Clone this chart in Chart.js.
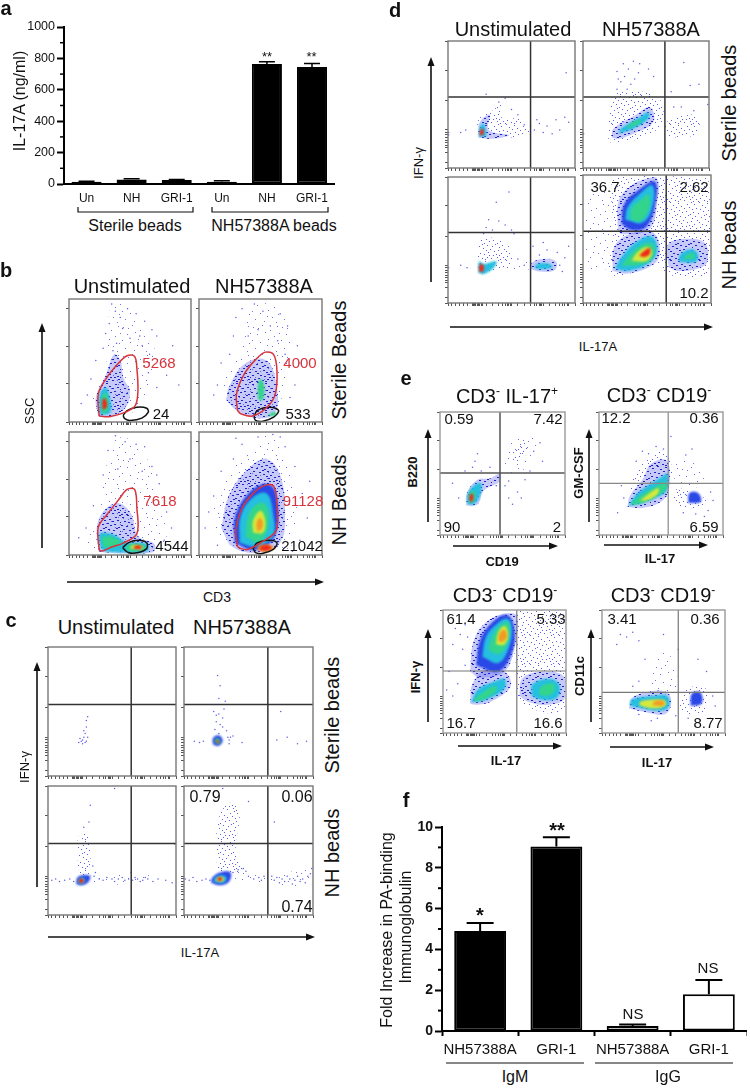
<!DOCTYPE html>
<html>
<head>
<meta charset="utf-8">
<title>IL-17A panels</title>
<script src="https://cdn.jsdelivr.net/npm/chart.js@4"></script>
<style>
body { margin: 0; background: #fff; width: 750px; height: 1089px; overflow: hidden; position: relative; font-family: "Liberation Sans", Arial, sans-serif; color: #111; }
canvas { position: absolute; }
canvas.flow { filter: blur(0.3px); }
.lbl { position: absolute; white-space: nowrap; transform: translate(-50%, -50%); line-height: 1; }
.lbl sup { font-size: .6em; line-height: 0; }
svg { position: absolute; left: 0; top: 0; }
</style>
</head>
<body>
<svg id="overlay" width="750" height="1089"></svg>
<script>
// panel a
const catsA = ['Un', 'NH', 'GRI-1', 'Un', 'NH', 'GRI-1'];
const valsA = [15, 28, 25, 15, 765, 745];
const errsA = [3, 5, 4, 5, 14, 22];
const ticksA = [0, 200, 400, 600, 800, 1000];
const minorA = [100, 300, 500, 700, 900];

// panel f
const catsF = ['NH57388A', 'GRI-1', 'NH57388A', 'GRI-1'];
const valsF = [4.9, 9.05, 0.25, 1.8];
const errsF = [0.4, 0.45, 0.07, 0.7];
const ticksF = [0, 2, 4, 6, 8, 10];
const minorF = [1, 3, 5, 7, 9];

// flow plot axis ticks
const flowXTicks = [0, 3, 6, 9, 12, 15, 19, 20, 21, 22, 23, 24, 25, 26, 27, 30, 35, 40, 43, 45, 47, 48, 49, 50, 55, 60, 65, 68, 70, 72, 73, 74, 75, 80, 85, 88, 90, 92, 94, 95, 100];
const flowYTicks = [0, 4, 12, 16, 18, 20, 22, 24, 26, 28, 30, 53, 77, 100];
const sscTicks = [0, 31, 61, 92];

// b: gates
const bUL_red = [[24.7,4.8],[24,22.7],[30,34.7],[39.5,46.7],[47.6,53.9],[53.8,53.3],[55.6,44],[56.5,25.3],[54.3,13.3],[46.2,8],[34.1,4.5]];
const bUL_black = [[44.4,5.3],[47.6,9.3],[55.6,12],[63.7,11.2],[65,8],[59.7,3.2],[50.2,1.3],[45.7,2.7]];
const bUR_red = [[31.3,9.3],[30.5,22.7],[36.6,38.7],[46,50.7],[54,56.8],[60.7,54.7],[63.4,41.3],[62,22.7],[55.3,12],[43.3,4.8],[34,6.7]];
const bUR_black = [[44.7,4],[47.3,9.3],[58,12],[64.7,9.3],[60.7,4],[51.3,0.5],[46,1.3]];
const bLL_red = [[24.7,4],[24,22.7],[31.5,33.3],[41,45.3],[47.6,53.3],[53.8,53.3],[55.6,38.7],[55.6,17.3],[43.5,9.3],[35.5,6.7],[27.4,3.2]];
const bLL_black = [[44,5.9],[48.9,10.1],[57,12],[63.7,9.9],[63.7,5.3],[57,2.1],[48.9,1.9]];
const bLR_red = [[31.3,6.7],[30,20],[35.3,38.7],[44.7,50.7],[54,56.8],[60.7,56],[63.4,41.3],[62.8,20],[51.3,10.7],[39.3,4.5],[34,5.3]];
const bLR_black = [[44,5.3],[47.3,9.9],[56.7,12],[63.4,9.9],[60.7,4.8],[51.3,1.3],[46,1.9]];

// b: density outlines
const bUL_sparse = [[22,5],[20,25],[30,45],[32,70],[35,95],[45,95],[60,75],[70,60],[68,35],[60,15],[45,5]];
const bUL_dense = [[24,5],[22,20],[30,38],[37,55],[42,50],[45,35],[50,25],[45,10],[30,4]];
const bUL_cyan = [[25,6],[25,22],[30,28],[33,22],[34,8]];
const bUL_green = [[27,7],[27,20],[30,24],[32,18],[31,8]];
const bUL_hot = [[27.5,10],[27.5,18],[30,19],[31,12]];
const bUL_dots = [[35,96],[38,90],[42,85],[33,80],[48,92],[55,88],[62,82],[68,75],[72,70],[30,72],[28,60],[22,50],[18,35],[15,22],[10,15],[60,62],[66,55],[78,50],[80,38],[72,28],[65,40],[58,70],[44,76],[50,68],[39,64],[36,58],[85,62],[90,30]];

const bUR_sparse = [[20,22],[22,40],[35,60],[40,90],[60,95],[75,70],[70,35],[62,8],[45,4],[30,10]];
const bUR_dense = [[22,18],[25,30],[38,48],[55,50],[63,30],[62,8],[48,3],[30,10]];
const bUR_green = [[48,18],[48,30],[50,35],[53,30],[52,18]];
const bUR_green2 = [[55,5],[60,8],[63,8],[62,5]];
const bUR_dots = [[30,85],[35,92],[45,96],[52,90],[66,88],[72,78],[80,62],[82,48],[78,30],[74,20],[25,55],[18,48],[15,30],[12,22],[28,70],[40,70],[48,75],[58,78],[64,66],[70,55]];

const bLL_sparse = [[15,10],[25,40],[30,70],[40,95],[60,85],[72,50],[80,10],[70,3],[25,3]];
const bLL_dense = [[24,3],[24,28],[38,42],[50,35],[57,15],[70,9],[68,2],[30,2]];
const bLL_cyan = [[26,5],[25,17],[35,17],[44,12],[48,10],[64,9],[64,3],[45,2],[30,3]];
const bLL_green = [[28,7],[28,15],[40,13],[42,9],[32,6]];
const bLL_green2 = [[46,5],[50,9],[62,8],[62,4],[50,3]];
const bLL_yellow = [[50,5],[52,8],[60,7],[60,5]];
const bLL_red2 = [[53,5],[54,7.5],[59,7.5],[59,5]];
const bLL_dots = [[38,97],[46,92],[55,90],[62,88],[32,85],[28,65],[20,40],[14,22],[8,14],[68,72],[74,58],[80,35],[84,22],[78,12],[72,65],[50,78],[40,70],[60,68]];

const bLR_sparse = [[10,30],[20,60],[40,85],[55,97],[65,90],[75,60],[80,25],[72,5],[40,2],[22,8]];
const bLR_dense = [[18,22],[25,50],[42,72],[55,78],[66,65],[70,35],[66,10],[48,2],[28,6]];
const bLR_blue = [[29,10],[29,30],[40,50],[54,58],[62,52],[64,25],[58,10],[44,4]];
const bLR_cyan = [[33,10],[34,32],[44,47],[55,50],[60,35],[60,15],[46,7]];
const bLR_green = [[38,15],[40,32],[48,42],[55,40],[56,22],[48,10]];
const bLR_yellow = [[44,18],[44,28],[50,36],[54,28],[52,18]];
const bLR_orange = [[47,20],[47,27],[50,30],[52,25],[50,20]];
const bLR_gateHot = [[47,5],[50,8],[58,8],[61,6],[57,3],[50,3]];
const bLR_gateRed = [[49,4.5],[51,7.5],[58,7.5],[58,4.5],[53,3.5]];
const bLR_dots = [[5,22],[8,35],[12,48],[18,68],[28,78],[35,90],[48,96],[60,98],[70,88],[78,72],[84,50],[88,30],[82,12],[76,3],[15,8],[90,60],[30,95],[66,96]];

// c
const cUL_dots = [[27,28],[26,27],[28,30],[30,27],[25,29],[29,33],[31,30],[30,38],[30,43],[31,46],[27,25],[24,26],[29,26],[28,35]];
const cUR_blue = [[22.5,24.5],[22.5,29.5],[27,31.5],[30,27.5],[27,23.5]];
const cUR_green = [[24,25.5],[24.5,29],[27.5,28.5],[27.5,25]];
const cUR_red = [[25,26],[25.5,28],[27,27.5],[26.5,25.5]];
const cUR_dots = [[27,33],[24,36],[28,40],[25,42],[30,45],[27,48],[23,50],[31,52],[32,58],[27,60],[28,70],[25,47],[30,38],[33,35],[36,30],[38,31],[35,28],[45,26],[72,28],[80,30],[88,25],[95,27],[75,50],[15,27],[12,26],[8,27],[35,25],[26,78],[34,30]];
const cLL_column = [[24,30],[23,55],[25,62],[31,62],[32,30]];
const cLL_band = [[34,24],[34,31],[60,31],[78,31],[82,28],[72,24]];
const cLL_blue = [[22,24],[23,29],[28,31],[33,30],[31,25],[26,23]];
const cLL_cyan = [[23,25],[24,28],[27,29],[29,27],[27,24]];
const cLL_hot = [[24,25],[24.5,28],[27.5,28],[27.5,25]];
const cLL_dots = [[3,27],[6,28],[9,26],[13,27],[17,28],[20,26],[36,30],[40,28],[43,27],[46,29],[50,28],[52,26],[55,28],[58,29],[60,27],[63,28],[66,27],[68,29],[70,28],[72,26],[74,27],[76,29],[78,28],[82,26],[86,28],[92,27],[97,25],[28,68],[32,72],[33,85],[52,98],[65,33],[99,55],[35,38],[37,33]];
const cLR_column = [[26,30],[25,60],[28,78],[36,87],[43,80],[40,50],[45,34],[34,32]];
const cLR_band = [[38,26],[38,33],[60,31],[80,33],[99,36],[99,24],[78,23],[60,25]];
const cLR_blue = [[21,25],[22,29],[28,33],[36,33],[35,26],[28,23]];
const cLR_cyan = [[23,25.5],[24,29],[29,31],[33,29],[31,25]];
const cLR_yellow = [[25,26.5],[26,28.5],[29,29.5],[31,28],[29,26]];
const cLR_red = [[26,26.5],[26.5,29],[29.5,29],[29,26.5]];
const cLR_dots = [[1,28],[4,27],[7,29],[10,26],[14,27],[17,28],[20,27],[38,33],[42,35],[46,36],[48,34],[50,30],[54,28],[58,29],[60,27],[62,30],[68,30],[70,27],[72,29],[74,25],[76,28],[78,26],[80,30],[82,28],[84,24],[86,27],[88,30],[90,26],[92,28],[94,25],[96,30],[98,32],[99,36],[70,72],[30,98],[50,88]];

// d
const dUL_sparse = [[24,24],[24,38],[35,45],[42,50],[42,40],[58,38],[64,28],[50,24]];
const dUL_blue = [[24,24],[25,36],[33,42],[32,30],[48,26],[35,23]];
const dUL_cyan = [[24.5,24.5],[25,32],[28,35],[30,29],[30,25]];
const dUL_hot = [[25,25.5],[25.5,30],[27.5,31],[28,26.5]];
const dUL_dots = [[68,30],[72,35],[75,28],[78,33],[82,27],[85,38],[88,30],[92,40],[95,36],[70,38],[65,33],[10,28],[14,30],[0.5,28],[0.5,26],[30,58],[93,75],[45,55],[40,52],[50,46],[55,42],[60,34]];
const dUR_sparse = [[20,20],[22,50],[30,60],[60,55],[62,35],[45,23]];
const dUR_dense = [[23,24],[24,31],[42,42],[52,48],[56,44],[55,35],[40,27],[28,23]];
const dUR_cyan = [[28,27],[30,31],[45,40],[52,44],[52,39],[40,31]];
const dUR_green = [[35,31],[37,34],[44,38],[46,36]];
const dUR_right = [[65,25],[65,35],[85,42],[92,38],[90,27],[75,24]];
const dUR_dots = [[27,62],[30,68],[33,72],[27,76],[36,78],[40,84],[32,82],[44,75],[38,66],[45,82],[52,78],[56,72],[28,70],[35,62],[41,70],[80,83],[92,66],[85,65],[70,60],[0.5,27],[99,50],[72,48],[78,48],[88,45]];
const dLL_sparse = [[24,23],[24,45],[28,52],[40,50],[50,42],[50,30],[35,25]];
const dLL_cyan = [[24,24],[24.5,33],[28,31],[38,33],[36,28],[28,23]];
const dLL_hot = [[24.5,24.5],[25,30.5],[27.5,30.5],[28,25.5]];
const dLL_bridge = [[50,27],[52,31],[65,33],[65,27]];
const dLL_rBlue = [[65,27],[66,32],[75,35],[85,33],[84,26],[72,25]];
const dLL_rCyan = [[68,28],[70,31],[80,31],[82,28],[72,27]];
const dLL_dots = [[30,60],[35,58],[45,62],[50,58],[40,65],[32,66],[28,55],[38,80],[48,88],[52,55],[67,45],[75,48],[78,42],[72,38],[86,40],[92,36],[95,45],[0.5,28],[10,30],[15,28],[88,30],[90,25],[55,35],[60,30]];
const dLR_wash = [[25,56],[25,98],[60,99],[98,97],[98,25],[65,22],[60,30],[23,22]];
const dLR_left = [[3,25],[3,80],[22,85],[22,30]];
const dLR_upDense = [[27,60],[28,80],[38,92],[50,97],[58,97],[58,80],[52,58],[30,54]];
const dLR_upBlue = [[30,62],[32,77],[43,88],[56,95],[57,80],[50,60],[38,57]];
const dLR_upCyan = [[33,65],[35,75],[45,86],[54,92],[55,78],[47,63]];
const dLR_upGreen = [[37,65],[38,74],[47,82],[51,85],[52,75],[45,64]];
const dLR_loDense = [[23,25],[25,45],[40,55],[55,55],[60,40],[55,30],[35,23]];
const dLR_loCyan = [[25,27],[30,36],[42,48],[54,52],[58,40],[50,30],[35,25]];
const dLR_loGreen = [[30,29],[37,38],[47,46],[55,46],[55,36],[45,30]];
const dLR_loYellow = [[38,33],[42,39],[50,44],[54,40],[50,33]];
const dLR_loRed = [[44,37],[47,40],[52,43],[52,38],[48,36]];
const dLR_rDense = [[67,28],[66,45],[78,50],[95,47],[97,32],[90,27],[75,25]];
const dLR_rCyan = [[75,32],[76,38],[85,42],[90,38],[88,32]];
const dLR_rGreen = [[79,34],[80,37],[86,39],[87,35]];

// e
const e1_blue = [[21,24],[22,35],[30,45],[40,46],[48,50],[48,44],[35,36],[30,25]];
const e1_cyan = [[22,25],[22,33],[28,41],[33,42],[32,32],[27,25]];
const e1_green = [[23,27],[24,34],[27,36],[28,30],[25,26]];
const e1_red = [[23.5,27.5],[24,33],[26.5,33],[26,27.5]];
const e1_upSparse = [[52,55],[52,65],[60,78],[72,82],[78,77],[70,58],[60,48]];
const e1_upDense = [[58,62],[60,72],[68,75],[70,68],[63,60]];
const e1_dots = [[28,60],[26,55],[33,52],[30,66],[20,52],[15,30],[10,42],[52,40],[55,30],[58,25],[62,35],[68,45],[65,30],[75,68],[80,75],[82,60],[40,55],[45,40],[72,52],[55,44]];
const e2_sparse = [[25,35],[30,52],[40,62],[47,68],[56,66],[56,40]];
const e2_blue = [[23,23],[25,32],[35,45],[42,58],[55,60],[56,36],[50,27],[35,22]];
const e2_cyan = [[24,24],[30,33],[42,42],[50,47],[55,50],[55,37],[48,31],[35,26]];
const e2_green = [[25,24.5],[32,31],[45,39],[54,43],[54,37],[45,31],[35,26]];
const e2_yellow = [[33,28],[42,35],[48,38],[47,33],[38,28]];
const e2_rDense = [[60,35],[65,38],[85,30],[85,23],[72,22],[62,25]];
const e2_rBlue = [[72,26],[73,34],[80,34],[82,27]];
const e2_upSparse = [[60,42],[65,62],[82,58],[82,40]];
const e2_dots = [[46,72],[52,70],[40,66],[58,80],[30,60],[18,40],[20,30],[90,35],[92,28],[88,20],[75,70],[70,65],[35,68],[15,18],[68,18],[78,17],[85,15]];
const e3_wash = [[60,45],[60,99],[99,99],[99,20],[62,25]];
const e3_upDense = [[22,50],[25,75],[35,90],[50,97],[60,95],[58,70],[50,50],[30,45]];
const e3_upBlue = [[27,55],[30,75],[40,90],[52,96],[58,85],[56,65],[45,50]];
const e3_upCyan = [[32,62],[35,78],[43,88],[52,93],[56,85],[53,68],[45,57]];
const e3_upGreen = [[37,68],[40,78],[46,87],[53,90],[54,80],[50,68],[44,64]];
const e3_upYellow = [[43,72],[45,82],[50,87],[53,80],[50,72]];
const e3_upOrange = [[45,75],[46,81],[50,84],[52,78],[48,74]];
const e3_loBlue = [[22,24],[24,40],[35,52],[50,50],[55,38],[40,26],[28,23]];
const e3_loCyan = [[23,25],[28,35],[42,42],[50,44],[50,36],[35,27]];
const e3_loGreen = [[24,26],[32,33],[42,38],[44,35],[32,27]];
const e3_rDense = [[62,30],[65,45],[85,50],[99,45],[99,28],[85,23],[70,25]];
const e3_rCyan = [[72,30],[73,40],[88,44],[95,38],[92,28],[80,27]];
const e3_rGreen = [[78,32],[80,38],[90,40],[90,33],[82,30]];
const e3_dots = [[10,85],[14,80],[8,72],[16,68],[5,50],[12,40],[8,30],[18,88],[20,78],[3,35],[18,55]];
const e4_upSparse = [[38,30],[42,60],[48,67],[57,60],[60,35]];
const e4_dense = [[22,20],[24,28],[35,33],[53,33],[56,22],[50,15],[35,17]];
const e4_cyan = [[23,22],[24,27],[40,30],[53,30],[54,21],[45,18]];
const e4_green = [[30,23],[32,26],[50,27],[52,23],[45,20],[35,21]];
const e4_hot = [[41,22.5],[43,26],[50,26],[50,22.5]];
const e4_rSparse = [[63,20],[65,32],[75,38],[85,35],[83,18],[72,15]];
const e4_rDense = [[72,22],[73,32],[80,33],[81,24]];
const e4_dots = [[15,80],[20,78],[25,82],[30,75],[12,72],[62,68],[78,60],[85,50],[90,30],[92,22],[70,12],[60,14],[45,12],[40,10],[30,15],[88,12],[50,80],[35,60],[30,42],[25,38]];

// little texture tiles for the low density stipple
const sparseTile = [[2,3],[11,1],[19,6],[26,2],[6,10],[14,8],[23,12],[1,16],[9,18],[17,15],[27,19],[4,24],[13,26],[21,22],[25,27],[7,4],[16,21],[28,9]];
const denseTile = [[1,2],[6,0],[9,3],[14,1],[17,4],[23,2],[27,0],[3,6],[7,7],[12,5],[15,8],[20,6],[25,5],[28,7],[0,10],[5,11],[10,9],[13,12],[18,10],[22,9],[26,12],[2,14],[8,15],[11,13],[16,14],[21,15],[24,13],[28,16],[4,18],[6,20],[12,17],[15,19],[19,18],[23,20],[27,19],[1,22],[9,22],[13,23],[17,21],[22,24],[25,23],[3,26],[7,25],[11,27],[16,26],[20,27],[26,26],[28,24],[0,28],[5,28],[14,28],[18,24]];

function makePattern(tile, dotColor, dotWidth, wash) {
    let c = document.createElement('canvas');
    c.width = 29;
    c.height = 29;
    let g = c.getContext('2d');
    if (wash) {
        g.fillStyle = wash;
        g.fillRect(0, 0, 29, 29);
    }
    g.fillStyle = dotColor;
    tile.forEach(p => g.fillRect(p[0], p[1], dotWidth, 1));
    return g.createPattern(c, 'repeat');
}

const levelColors = {
    sparse: makePattern(sparseTile, '#7070ee', 1, null),
    medium: makePattern(denseTile, '#5a5ef0', 1, null),
    dense: makePattern(denseTile, '#1a22c8', 2, 'rgba(70,80,235,.3)'),
    blue: '#2a48e6',
    cyan: '#25bfe0',
    green: '#33d48c',
    yellow: '#d6e83c',
    orange: '#f39a24',
    red: '#ee2a1a'
};
const stippled = ['sparse', 'medium', 'dense'];

function toXY(pts) {
    return pts.map(p => ({ x: p[0], y: p[1] }));
}

function ring(pts) {
    return toXY(pts.concat([pts[0]]));
}

// flow plot frame is drawn round the chart area
const framePlugin = {
    id: 'frame',
    afterDraw(chart, args, opts) {
        let a = chart.chartArea;
        let ctx = chart.ctx;
        ctx.save();
        ctx.strokeStyle = opts.color || '#777';
        ctx.lineWidth = 1.4;
        ctx.strokeRect(a.left, a.top, a.right - a.left, a.bottom - a.top);
        ctx.restore();
    }
};

// solid density levels get a soft edge, stipple and lines stay sharp
function softFilter(chart, index) {
    let ds = chart.data.datasets[index];
    chart.ctx.filter = ds && ds.soft ? 'blur(1px)' : 'none';
}
const softEdges = {
    id: 'softEdges',
    beforeDatasetsDraw(chart) {
        softFilter(chart, chart.data.datasets.length - 1);
    },
    beforeDatasetDraw(chart) {
        chart.ctx.filter = 'none';
    },
    afterDatasetDraw(chart, args) {
        softFilter(chart, args.index - 1);
    },
    afterDatasetsDraw(chart) {
        chart.ctx.filter = 'none';
    }
};

function addCanvas(left, top, w, h, cls) {
    let c = document.createElement('canvas');
    c.width = w;
    c.height = h;
    c.style.left = left + 'px';
    c.style.top = top + 'px';
    c.style.width = w + 'px';
    c.style.height = h + 'px';
    if (cls) c.className = cls;
    document.body.appendChild(c);
    return c;
}

function flowPanel(x, y, w, h, cfg) {
    let datasets = [];
    (cfg.gates || []).forEach(g => {
        datasets.push({ data: ring(g[1]), showLine: true, tension: 0.35, borderColor: g[0], borderWidth: 1.5, pointRadius: 0, fill: false });
    });
    if (cfg.quad) {
        let lc = cfg.lineColor || '#333';
        let lw = cfg.lineWidth || 1.5;
        datasets.push({ data: [{ x: cfg.quad[0], y: 0 }, { x: cfg.quad[0], y: 100 }], showLine: true, borderColor: lc, borderWidth: lw, pointRadius: 0, fill: false });
        datasets.push({ data: [{ x: 0, y: cfg.quad[1] }, { x: 100, y: cfg.quad[1] }], showLine: true, borderColor: lc, borderWidth: lw, pointRadius: 0, fill: false });
    }
    if (cfg.dots) {
        datasets.push({ data: toXY(cfg.dots), showLine: false, pointRadius: 0.75, pointBorderWidth: 0, pointBackgroundColor: '#5f5fe6' });
    }
    (cfg.layers || []).forEach(l => {
        datasets.push({ data: ring(l[1]), soft: !stippled.includes(l[0]), showLine: true, tension: 0.4, borderWidth: 0, borderColor: 'transparent', backgroundColor: levelColors[l[0]], pointRadius: 0, fill: 'shape' });
    });
    let canvas = addCanvas(x - 6, y - 2, w + 8, h + 8, 'flow');
    new Chart(canvas, {
        type: 'scatter',
        data: { datasets: datasets },
        plugins: [framePlugin, softEdges],
        options: {
            responsive: false,
            animation: false,
            layout: { padding: { top: 2, right: 2 } },
            plugins: { legend: { display: false }, tooltip: { enabled: false }, filler: { drawTime: 'beforeDatasetDraw' }, frame: { color: cfg.frameColor || '#777' } },
            scales: {
                x: {
                    type: 'linear', min: 0, max: 100,
                    afterBuildTicks: s => { s.ticks = flowXTicks.map(v => ({ value: v })); },
                    afterFit: s => { s.height = 6; },
                    ticks: { display: false },
                    grid: { drawOnChartArea: false, tickLength: 3, tickColor: '#555', tickWidth: 1 },
                    border: { display: false }
                },
                y: {
                    type: 'linear', min: 0, max: 100,
                    afterBuildTicks: s => { s.ticks = (cfg.yTicks || flowYTicks).map(v => ({ value: v })); },
                    afterFit: s => { s.width = 6; },
                    ticks: { display: false },
                    grid: { drawOnChartArea: false, tickLength: 3, tickColor: '#555', tickWidth: 1 },
                    border: { display: false }
                }
            }
        }
    });
}

// error bars and minor ticks for the two bar graphs
const barExtras = {
    id: 'barExtras',
    afterDatasetsDraw(chart, args, opts) {
        let ctx = chart.ctx;
        let xs = chart.scales.x;
        let ys = chart.scales.y;
        ctx.save();
        ctx.strokeStyle = '#000';
        ctx.lineWidth = opts.lineWidth;
        opts.errors.forEach((e, i) => {
            let px = xs.getPixelForValue(i);
            let top = ys.getPixelForValue(opts.values[i] + e);
            let base = ys.getPixelForValue(opts.values[i]);
            ctx.beginPath();
            ctx.moveTo(px, base);
            ctx.lineTo(px, top);
            ctx.moveTo(px - opts.cap, top);
            ctx.lineTo(px + opts.cap, top);
            ctx.stroke();
        });
        opts.minor.forEach(v => {
            let py = ys.getPixelForValue(v);
            ctx.beginPath();
            ctx.moveTo(ys.right, py);
            ctx.lineTo(ys.right - opts.minorLen, py);
            ctx.stroke();
        });
        ctx.restore();
    }
};

function barGraph(cfg) {
    let canvas = addCanvas(cfg.left, cfg.top, cfg.w, cfg.h);
    new Chart(canvas, {
        type: 'bar',
        data: {
            labels: cfg.cats,
            datasets: [{
                data: cfg.vals,
                backgroundColor: cfg.fills,
                borderColor: '#000',
                borderWidth: cfg.barBorder,
                borderSkipped: false,
                barPercentage: cfg.barPct,
                categoryPercentage: 1
            }]
        },
        plugins: [barExtras],
        options: {
            responsive: false,
            animation: false,
            layout: { padding: { top: cfg.padTop } },
            plugins: {
                legend: { display: false },
                tooltip: { enabled: false },
                barExtras: { errors: cfg.errs, values: cfg.vals, cap: cfg.cap, minor: cfg.minor, minorLen: 4, lineWidth: cfg.lineWidth }
            },
            scales: {
                x: {
                    afterFit: s => { s.height = cfg.xHeight; },
                    ticks: { color: '#111', font: { family: 'Liberation Sans', size: cfg.xFont }, padding: cfg.xPad, maxRotation: 0, autoSkip: false },
                    grid: { drawOnChartArea: false, drawTicks: cfg.xTicks, tickLength: 5, tickWidth: 2, tickColor: '#000' },
                    border: { color: '#000', width: 2 }
                },
                y: {
                    min: 0, max: cfg.yMax,
                    afterBuildTicks: s => { s.ticks = cfg.yTicks.map(v => ({ value: v })); },
                    afterFit: s => { s.width = cfg.yWidth; },
                    ticks: { color: '#111', font: { family: 'Liberation Sans', size: cfg.yFont, weight: cfg.yWeight }, padding: 2, callback: v => String(v) },
                    grid: { drawOnChartArea: false, tickLength: 7, tickWidth: 2, tickColor: '#000' },
                    border: { color: '#000', width: 2 }
                }
            }
        }
    });
}

barGraph({ left: 0, top: 0, w: 335, h: 205, cats: catsA, vals: valsA, errs: errsA, fills: ['#999', '#fff', '#fff', '#000', '#000', '#000'], barPct: 0.667, barBorder: 2, cap: 8, minor: minorA, yTicks: ticksA, yMax: 1000, padTop: 27, xHeight: 21, yWidth: 64, xFont: 12, xPad: 7, xTicks: false, yFont: 12.5, yWeight: 'normal', lineWidth: 1.5 });
barGraph({ left: 375, top: 800, w: 372, h: 261, cats: catsF, vals: valsF, errs: errsF, fills: ['#000', '#000', '#fff', '#fff'], barPct: 0.68, barBorder: 2, cap: 13.5, minor: minorF, yTicks: ticksF, yMax: 10, padTop: 27, xHeight: 30, yWidth: 67, xFont: 15, xPad: 5, xTicks: true, yFont: 14, yWeight: 'bold', lineWidth: 2 });

// b
const redGate = '#d8343c';
const blackGate = '#111';
flowPanel(69, 297, 124, 125, { yTicks: sscTicks, dots: bUL_dots, gates: [[redGate, bUL_red], [blackGate, bUL_black]],
    layers: [['red', bUL_hot], ['green', bUL_green], ['cyan', bUL_cyan], ['dense', bUL_dense], ['sparse', bUL_sparse]] });
flowPanel(199, 297, 125, 125, { yTicks: sscTicks, dots: bUR_dots, gates: [[redGate, bUR_red], [blackGate, bUR_black]],
    layers: [['green', bUR_green], ['green', bUR_green2], ['dense', bUR_dense], ['sparse', bUR_sparse]] });
flowPanel(69, 430, 124, 125, { yTicks: sscTicks, dots: bLL_dots, gates: [[redGate, bLL_red], [blackGate, bLL_black]],
    layers: [['red', bLL_red2], ['yellow', bLL_yellow], ['green', bLL_green2], ['green', bLL_green], ['cyan', bLL_cyan], ['dense', bLL_dense], ['sparse', bLL_sparse]] });
flowPanel(199, 430, 125, 125, { yTicks: sscTicks, dots: bLR_dots, gates: [[redGate, bLR_red], [blackGate, bLR_black]],
    layers: [['red', bLR_gateRed], ['orange', bLR_gateHot], ['orange', bLR_orange], ['yellow', bLR_yellow], ['green', bLR_green], ['cyan', bLR_cyan], ['blue', bLR_blue], ['dense', bLR_dense], ['sparse', bLR_sparse]] });

// c
const cQuad = [65, 55.5];
flowPanel(48, 645, 130, 131, { quad: cQuad, dots: cUL_dots });
flowPanel(184, 645, 131, 131, { quad: cQuad, dots: cUR_dots, layers: [['red', cUR_red], ['green', cUR_green], ['blue', cUR_blue]] });
flowPanel(48, 784, 130, 131, { quad: cQuad, dots: cLL_dots, layers: [['red', cLL_hot], ['cyan', cLL_cyan], ['blue', cLL_blue], ['sparse', cLL_band], ['medium', cLL_column]] });
flowPanel(184, 784, 131, 131, { quad: cQuad, dots: cLR_dots, layers: [['red', cLR_red], ['yellow', cLR_yellow], ['cyan', cLR_cyan], ['blue', cLR_blue], ['sparse', cLR_band], ['medium', cLR_column]] });

// d
const dQuad = [65, 56];
flowPanel(448, 39, 129, 129, { quad: dQuad, dots: dUL_dots, layers: [['red', dUL_hot], ['cyan', dUL_cyan], ['dense', dUL_blue], ['medium', dUL_sparse]] });
flowPanel(583, 39, 128, 129, { quad: dQuad, dots: dUR_dots, layers: [['green', dUR_green], ['cyan', dUR_cyan], ['dense', dUR_dense], ['medium', dUR_sparse], ['medium', dUR_right]] });
flowPanel(448, 175, 129, 128, { quad: dQuad, dots: dLL_dots, layers: [['red', dLL_hot], ['cyan', dLL_rCyan], ['cyan', dLL_cyan], ['dense', dLL_rBlue], ['sparse', dLL_bridge], ['medium', dLL_sparse]] });
flowPanel(583, 175, 128, 128, { quad: dQuad, layers: [
    ['red', dLR_loRed], ['yellow', dLR_loYellow], ['green', dLR_loGreen], ['cyan', dLR_loCyan], ['dense', dLR_loDense],
    ['green', dLR_upGreen], ['cyan', dLR_upCyan], ['blue', dLR_upBlue], ['dense', dLR_upDense],
    ['green', dLR_rGreen], ['cyan', dLR_rCyan], ['dense', dLR_rDense],
    ['sparse', dLR_left], ['medium', dLR_wash]] });

// e
const eFrame = '#999';
flowPanel(440, 410, 127, 125, { quad: [48, 50.4], lineColor: '#555', frameColor: eFrame, dots: e1_dots,
    layers: [['red', e1_red], ['green', e1_green], ['cyan', e1_cyan], ['dense', e1_blue], ['medium', e1_upDense], ['sparse', e1_upSparse]] });
flowPanel(599, 410, 126, 125, { quad: [55.8, 42], lineColor: '#888', lineWidth: 1.2, frameColor: eFrame, dots: e2_dots,
    layers: [['yellow', e2_yellow], ['green', e2_green], ['cyan', e2_cyan], ['dense', e2_blue], ['medium', e2_sparse], ['blue', e2_rBlue], ['medium', e2_rDense], ['sparse', e2_upSparse]] });
flowPanel(443, 608, 125, 125, { quad: [60, 50.4], lineColor: '#777', lineWidth: 1.2, frameColor: eFrame, dots: e3_dots,
    layers: [['orange', e3_upOrange], ['yellow', e3_upYellow], ['green', e3_upGreen], ['cyan', e3_upCyan], ['blue', e3_upBlue], ['dense', e3_upDense],
        ['green', e3_loGreen], ['cyan', e3_loCyan], ['dense', e3_loBlue],
        ['green', e3_rGreen], ['cyan', e3_rCyan], ['dense', e3_rDense], ['medium', e3_wash]] });
flowPanel(602, 608, 125, 125, { quad: [62, 33], lineColor: '#777', lineWidth: 1.2, frameColor: eFrame, dots: e4_dots,
    layers: [['orange', e4_hot], ['yellow', e4_green], ['cyan', e4_cyan], ['dense', e4_dense], ['sparse', e4_upSparse], ['blue', e4_rDense], ['medium', e4_rSparse]] });

// text
function label(html, x, y, size, opt) {
    opt = opt || {};
    let d = document.createElement('div');
    d.className = 'lbl';
    d.innerHTML = html;
    d.style.left = x + 'px';
    d.style.top = y + 'px';
    d.style.fontSize = size + 'px';
    if (opt.bold) d.style.fontWeight = 'bold';
    if (opt.color) d.style.color = opt.color;
    if (opt.rot) d.style.transform = 'translate(-50%,-50%) rotate(' + opt.rot + 'deg)';
    document.body.appendChild(d);
}

const red = '#d8343c';
const cd3 = 'CD3<sup>-</sup> CD19<sup>-</sup>';

label('a', 6, 8, 20, { bold: true });
label('IL-17A (ng/ml)', 20, 101, 16, { rot: -90 });
label('**', 267, 56, 13);
label('**', 311.5, 56, 13);
label('Sterile beads', 135, 226, 16);
label('NH57388A beads', 274, 226, 16);

label('b', 6, 270, 20, { bold: true });
label('Unstimulated', 132, 286, 20);
label('NH57388A', 264, 286, 20);
label('Sterile Beads', 339, 360, 20, { rot: -90 });
label('NH Beads', 339, 500, 20, { rot: -90 });
label('SSC', 29, 411, 13, { rot: -90 });
label('CD3', 217, 597, 14);
label('5268', 159, 362, 15, { color: red });
label('24', 161, 413, 15);
label('4000', 300, 362, 15, { color: red });
label('533', 298, 413, 15);
label('7618', 160, 500, 15, { color: red });
label('4544', 172, 545, 15);
label('91128', 303, 500, 15, { color: red });
label('21042', 302, 545, 15);

label('c', 11, 620, 20, { bold: true });
label('Unstimulated', 116, 627, 20);
label('NH57388A', 242, 627, 20);
label('Sterile beads', 332, 715, 20, { rot: -90 });
label('NH beads', 332, 853, 20, { rot: -90 });
label('IFN-γ', 24, 767, 13, { rot: -90 });
label('IL-17A', 200, 952, 13);
label('0.79', 205, 797, 16);
label('0.06', 297, 797, 16);
label('0.74', 297, 907, 16);

label('d', 395, 10, 20, { bold: true });
label('Unstimulated', 513, 29, 20);
label('NH57388A', 651, 29, 20);
label('Sterile beads', 729, 103, 20, { rot: -90 });
label('NH beads', 729, 245, 20, { rot: -90 });
label('IFN-γ', 418, 163, 13, { rot: -90 });
label('IL-17A', 598, 346, 13);
label('36.7', 605, 186, 15);
label('2.62', 694, 186, 15);
label('10.2', 694, 292, 15);

label('e', 406, 378, 20, { bold: true });
label('CD3<sup>-</sup> IL-17<sup>+</sup>', 507, 396, 20);
label(cd3, 659, 395, 20);
label(cd3, 505, 595, 20);
label(cd3, 663, 595, 20);
label('0.59', 459, 418, 15);
label('7.42', 548, 418, 15);
label('90', 452, 526, 15);
label('2', 557, 526, 15);
label('12.2', 616, 417, 15);
label('0.36', 704, 417, 15);
label('6.59', 704, 526, 15);
label('61.4', 461, 618, 15);
label('5.33', 551, 618, 15);
label('16.7', 461, 722, 15);
label('16.6', 548, 722, 15);
label('3.41', 622, 618, 15);
label('0.36', 705, 618, 15);
label('8.77', 708, 722, 15);
label('B220', 412, 472, 13, { bold: true, rot: -90 });
label('CD19', 502, 561, 13, { bold: true });
label('GM-CSF', 578, 473, 13, { bold: true, rot: -90 });
label('IL-17', 660, 558, 13, { bold: true });
label('IFN-γ', 415, 677, 13, { bold: true, rot: -90 });
label('IL-17', 506, 760, 13, { bold: true });
label('CD11c', 579, 676, 13, { bold: true, rot: -90 });
label('IL-17', 657, 762, 13, { bold: true });

label('f', 406, 800, 20, { bold: true });
label('Fold Increase in PA-binding', 387, 930, 16, { rot: -90 });
label('Immunoglobulin', 406, 927, 16, { rot: -90 });
label('*', 480, 915, 20, { bold: true });
label('**', 557, 830, 20, { bold: true });
label('NS', 633, 1013, 15);
label('NS', 708, 967, 15);
label('IgM', 515, 1077, 16);
label('IgG', 668, 1077, 16);

// arrows and brackets
const arrowsUp = [[42, 548, 323], [37, 887, 662], [431, 282, 57], [428, 522, 429], [589, 522, 429], [428, 722, 629], [591, 722, 629]];
const arrowsRight = [[582, 67, 324], [937, 48, 315], [327, 450, 713], [546, 453, 558], [545, 604, 708], [746, 458, 562], [747, 610, 714]];
const brackets = [[78, 193, 207, 212], [212, 328, 207, 212]];
const rules = [[446, 584, 1063], [595, 733, 1063]];

let svg = '';
arrowsUp.forEach(a => {
    svg += `<path d="M${a[0]} ${a[1]}V${a[2] + 6}" stroke="#111" stroke-width="1.6"/>`;
    svg += `<path d="M${a[0] - 3.5} ${a[2] + 9}L${a[0]} ${a[2]}L${a[0] + 3.5} ${a[2] + 9}Z" fill="#111"/>`;
});
arrowsRight.forEach(a => {
    svg += `<path d="M${a[1]} ${a[0]}H${a[2] - 6}" stroke="#111" stroke-width="1.6"/>`;
    svg += `<path d="M${a[2] - 9} ${a[0] - 3.5}L${a[2]} ${a[0]}L${a[2] - 9} ${a[0] + 3.5}Z" fill="#111"/>`;
});
brackets.forEach(b => {
    svg += `<path d="M${b[0]} ${b[2]}V${b[3]}H${b[1]}V${b[2]}" fill="none" stroke="#111" stroke-width="1.2"/>`;
});
rules.forEach(r => {
    svg += `<path d="M${r[0]} ${r[2]}H${r[1]}" stroke="#111" stroke-width="1.2"/>`;
});
document.getElementById('overlay').innerHTML = svg;
</script>
</body>
</html>
